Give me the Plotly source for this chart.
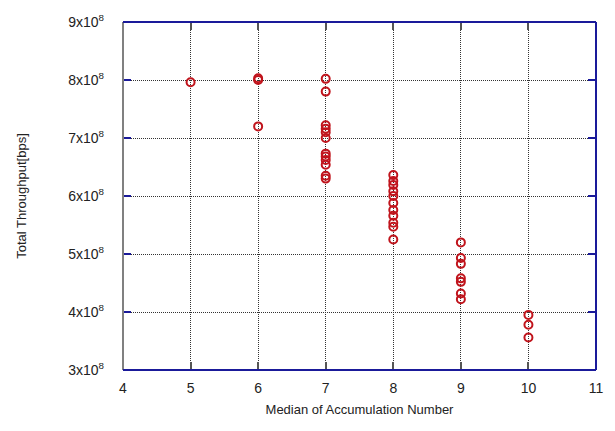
import plotly.graph_objects as go

x5 = [5]
y5 = [7.96e8]
x6 = [6, 6, 6]
y6 = [8.03e8, 8.0e8, 7.2e8]
x7 = [7] * 12
y7 = [8.02e8, 7.8e8, 7.22e8, 7.16e8, 7.1e8, 7.0e8, 6.73e8, 6.68e8, 6.62e8, 6.54e8, 6.35e8, 6.3e8]
x8 = [8] * 11
y8 = [6.36e8, 6.26e8, 6.19e8, 6.08e8, 6.0e8, 5.88e8, 5.76e8, 5.66e8, 5.54e8, 5.47e8, 5.25e8]
x9 = [9] * 7
y9 = [5.2e8, 4.93e8, 4.83e8, 4.58e8, 4.52e8, 4.32e8, 4.22e8]
x10 = [10, 10, 10]
y10 = [3.95e8, 3.78e8, 3.56e8]

xs = x5 + x6 + x7 + x8 + x9 + x10
ys = y5 + y6 + y7 + y8 + y9 + y10

x_ticks = [4, 5, 6, 7, 8, 9, 10, 11]
y_ticks = [3e8, 4e8, 5e8, 6e8, 7e8, 8e8, 9e8]
y_tick_text = [f"{int(v/1e8)}x10<sup>8</sup>" for v in y_ticks]

fig = go.Figure()
fig.add_trace(go.Scatter(
    x=xs, y=ys, mode="markers",
    marker=dict(symbol="circle-open", size=8, color="#c0141c", line=dict(width=2, color="#c0141c")),
    showlegend=False,
))

font = dict(family="Liberation Sans, Arial, sans-serif", size=13, color="#222")
tickfont = dict(family="Liberation Sans, Arial, sans-serif", size=14, color="#222")

fig.update_layout(
    width=615, height=431,
    margin=dict(l=123, r=17, t=16, b=61),
    paper_bgcolor="white", plot_bgcolor="white",
    font=font,
    xaxis=dict(
        range=[4, 11], tickvals=x_ticks, ticktext=[str(v) for v in x_ticks],
        showgrid=True, gridcolor="#333", griddash="1px,1px", gridwidth=1,
        zeroline=False, showline=False,
        ticks="inside", ticklen=8, tickwidth=2, tickcolor="#555", mirror="ticks",
        tickfont=tickfont, ticklabelstandoff=8,
        title=dict(text="Median of Accumulation Number", standoff=9, font=font),
    ),
    yaxis=dict(
        range=[3e8, 9e8], tickvals=y_ticks, ticktext=y_tick_text,
        showgrid=True, gridcolor="#333", griddash="1px,1px", gridwidth=1,
        zeroline=False, showline=False,
        ticks="inside", ticklen=8, tickwidth=2, tickcolor="#1a1a9a", mirror="ticks",
        tickfont=tickfont, ticklabelstandoff=18,
        title=dict(text="Total Throughput[bps]", standoff=38, font=font),
    ),
    shapes=[
        dict(type="line", xref="paper", yref="paper", x0=0, x1=0, y0=0, y1=1, line=dict(color="#808080", width=2)),
        dict(type="line", xref="paper", yref="paper", x0=0, x1=1, y0=0, y1=0, line=dict(color="#1a1a9a", width=2)),
        dict(type="line", xref="paper", yref="paper", x0=0, x1=1, y0=1, y1=1, line=dict(color="#1a1a9a", width=2)),
        dict(type="line", xref="paper", yref="paper", x0=1, x1=1, y0=0, y1=1, line=dict(color="#1a1a9a", width=2)),
    ],
)

fig.write_html("out.html")
